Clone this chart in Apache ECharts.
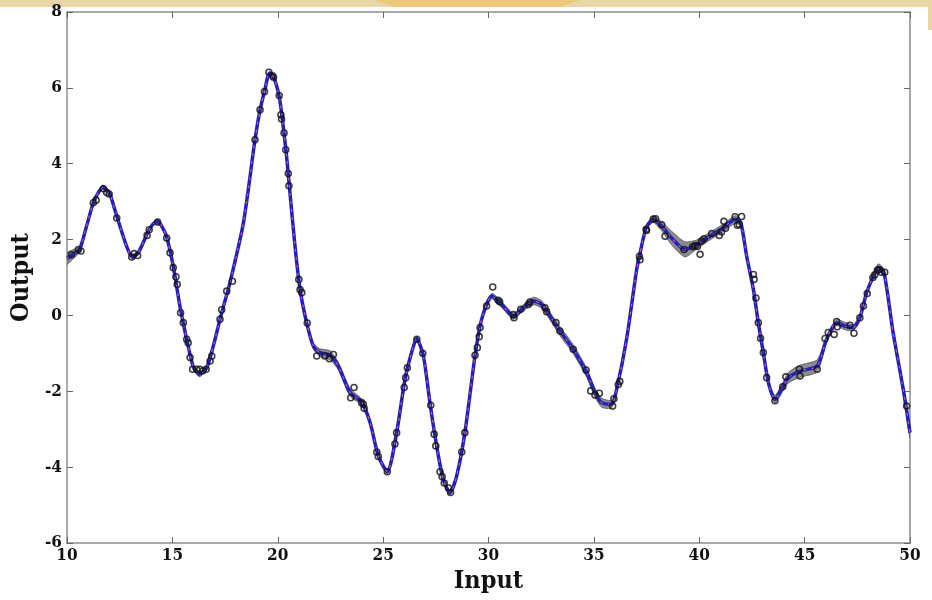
<!DOCTYPE html>
<html>
<head>
<meta charset="utf-8">
<title>Output vs Input</title>
<script src="https://cdn.jsdelivr.net/npm/echarts@6/dist/echarts.min.js"></script>
<style>
  html, body { margin: 0; padding: 0; background: #fff; }
  #chart { width: 932px; height: 600px; }
</style>
</head>
<body>
<div id="chart"></div>
<script>
// fitted mean curve
const inputX = [10.0, 10.3, 10.6, 10.9, 11.25, 11.5, 11.7, 11.9, 12.05, 12.4, 12.83, 13.1, 13.38, 13.86, 14.1, 14.3, 14.5, 14.73,
  15.04, 15.36, 15.68, 15.99, 16.28, 16.63, 16.94, 17.34, 17.73, 18.37, 18.92, 19.16, 19.39, 19.6, 19.79, 20.07, 20.26, 20.42,
  20.58, 20.82, 21.06, 21.37, 21.69, 22.0, 22.48, 22.87, 23.43, 23.98, 24.38, 24.77, 25.2, 25.64, 26.04, 26.35, 26.59, 26.91,
  27.22, 27.54, 27.85, 28.17, 28.49, 28.88, 29.36, 29.67, 30.15, 30.46, 30.7, 31.18, 31.65, 32.13, 32.52, 32.92, 33.39, 34.02,
  34.66, 35.05, 35.37, 35.84, 36.08, 36.55, 37.03, 37.16, 37.48, 37.82, 38.22, 38.69, 39.32, 39.88, 40.51, 41.14, 41.7, 41.97,
  42.25, 42.57, 42.8, 43.04, 43.28, 43.59, 43.99, 44.23, 44.78, 45.6, 46.04, 46.52, 46.91, 47.31, 47.62, 47.94, 48.26, 48.49,
  48.76, 49.2, 49.68, 50.0];
const outputMean = [1.5, 1.62, 1.74, 2.3, 2.97, 3.25, 3.38, 3.3, 3.18, 2.55, 1.82, 1.54, 1.65, 2.22, 2.42, 2.47, 2.35, 2.07,
  1.3, 0.24, -0.63, -1.35, -1.55, -1.38, -0.81, 0.07, 0.86, 2.44, 4.63, 5.42, 5.95, 6.38, 6.3, 5.77, 4.98, 4.19,
  3.23, 1.82, 0.68, -0.19, -0.81, -0.98, -1.05, -1.33, -2.03, -2.28, -2.82, -3.7, -4.12, -3.09, -1.68, -0.98, -0.61, -1.07,
  -2.3, -3.44, -4.32, -4.67, -4.23, -3.09, -1.07, -0.11, 0.51, 0.38, 0.24, -0.02, 0.2, 0.38, 0.29, -0.02, -0.41, -0.89,
  -1.51, -2.03, -2.3, -2.34, -1.95, -0.63, 1.21, 1.56, 2.31, 2.53, 2.35, 2.04, 1.74, 1.87, 2.09, 2.31, 2.53, 2.44,
  1.56, 0.68, -0.19, -0.98, -1.77, -2.21, -1.86, -1.64, -1.47, -1.33, -0.63, -0.19, -0.28, -0.32, -0.06, 0.6, 1.03, 1.26,
  1.14, -0.46, -1.95, -3.09];
// half width of the grey uncertainty band
const bandHalf = [0.15, 0.12, 0.08, 0.06, 0.05, 0.05, 0.06, 0.05, 0.05, 0.05, 0.05, 0.06, 0.05, 0.05, 0.05, 0.06, 0.05, 0.05,
  0.05, 0.05, 0.05, 0.05, 0.07, 0.05, 0.05, 0.05, 0.05, 0.04, 0.04, 0.04, 0.05, 0.06, 0.05, 0.05, 0.05, 0.05,
  0.05, 0.05, 0.05, 0.06, 0.08, 0.1, 0.12, 0.1, 0.1, 0.08, 0.06, 0.05, 0.06, 0.05, 0.05, 0.05, 0.05, 0.05,
  0.05, 0.05, 0.05, 0.07, 0.05, 0.05, 0.05, 0.05, 0.07, 0.08, 0.08, 0.08, 0.08, 0.1, 0.1, 0.1, 0.12, 0.12,
  0.12, 0.12, 0.12, 0.1, 0.06, 0.05, 0.05, 0.05, 0.06, 0.08, 0.12, 0.18, 0.2, 0.12, 0.1, 0.1, 0.1, 0.08,
  0.05, 0.05, 0.05, 0.05, 0.05, 0.1, 0.12, 0.14, 0.16, 0.16, 0.08, 0.08, 0.1, 0.08, 0.06, 0.06, 0.08, 0.1,
  0.08, 0.08, 0.12, 0.15];

// observed samples (open circles)
const obsX = [10.22, 10.54, 10.66, 11.25, 11.38, 11.73, 11.88, 12.0, 12.36, 13.07, 13.19, 13.35, 13.8, 13.9, 14.3, 14.73, 14.89,
  15.04, 15.17, 15.23, 15.39, 15.52, 15.68, 15.75, 15.84, 15.96, 16.15, 16.3, 16.45, 16.6, 16.79, 16.87, 17.26, 17.34, 17.58,
  17.85, 18.92, 19.16, 19.37, 19.58, 19.75, 19.8, 20.07, 20.15, 20.18, 20.3, 20.38, 20.5, 20.53, 21.0, 21.06, 21.14, 21.4,
  21.85, 22.24, 22.45, 22.64, 23.46, 23.62, 23.98, 24.06, 24.1, 24.7, 24.77, 25.2, 25.56, 25.64, 26.0, 26.07, 26.15, 26.6,
  26.88, 27.26, 27.42, 27.5, 27.7, 27.8, 27.9, 28.1, 28.2, 28.73, 28.88, 29.36, 29.47, 29.56, 29.6, 29.91, 30.2, 30.46,
  30.53, 31.18, 31.21, 31.53, 31.89, 31.96, 32.68, 32.76, 33.2, 33.39, 34.02, 34.63, 34.85, 35.05, 35.26, 35.89, 35.95,
  36.16, 36.23, 37.16, 37.19, 37.48, 37.5, 37.82, 37.93, 38.22, 38.38, 39.28, 39.69, 39.8, 39.91, 40.04, 40.11, 40.22,
  40.59, 40.95, 41.06, 41.17, 41.25, 41.7, 41.81, 41.9, 42.01, 42.57, 42.6, 42.69, 42.8, 42.91, 43.04, 43.2, 43.59, 43.96,
  44.11, 44.75, 44.78, 45.6, 45.97, 46.12, 46.4, 46.52, 46.55, 47.15, 47.34, 47.62, 47.79, 47.97, 48.24, 48.33, 48.45,
  48.54, 48.64, 48.8, 49.84];
const obsY = [1.6, 1.74, 1.7, 2.97, 3.04, 3.34, 3.24, 3.2, 2.57, 1.54, 1.63, 1.58, 2.11, 2.26, 2.46, 2.04, 1.65,
  1.26, 1.02, 0.82, 0.07, -0.19, -0.63, -0.72, -1.11, -1.42, -1.42, -1.42, -1.46, -1.42, -1.2, -1.07, -0.1, 0.15, 0.64,
  0.9, 4.63, 5.42, 5.9, 6.41, 6.32, 6.28, 5.8, 5.29, 5.18, 4.81, 4.37, 3.74, 3.42, 0.95, 0.68, 0.6, -0.2,
  -1.07, -1.07, -1.14, -1.03, -2.17, -1.9, -2.3, -2.34, -2.45, -3.6, -3.72, -4.12, -3.39, -3.09, -1.9, -1.64, -1.38, -0.63,
  -1.0, -2.37, -3.13, -3.44, -4.12, -4.25, -4.42, -4.55, -4.67, -3.6, -3.09, -1.05, -0.85, -0.56, -0.32, 0.25, 0.75, 0.4,
  0.36, 0.02, -0.06, 0.16, 0.29, 0.35, 0.2, 0.1, -0.19, -0.41, -0.89, -1.44, -1.99, -2.1, -2.05, -2.39, -2.2,
  -1.82, -1.74, 1.56, 1.47, 2.27, 2.24, 2.54, 2.55, 2.39, 2.09, 1.74, 1.81, 1.84, 1.82, 1.61, 1.96, 2.02,
  2.16, 2.11, 2.2, 2.48, 2.3, 2.6, 2.38, 2.4, 2.61, 1.08, 0.95, 0.46, -0.19, -0.6, -0.98, -1.64, -2.25, -1.88,
  -1.62, -1.42, -1.6, -1.42, -0.61, -0.45, -0.5, -0.16, -0.3, -0.26, -0.47, -0.06, 0.25, 0.58, 1.0, 1.07, 1.19,
  1.21, 1.14, 1.14, -2.39];

const xTicks = { min: 10, max: 50, interval: 5 };
const yTicks = { min: -6, max: 8, interval: 2 };

const meanData = inputX.map((x, i) => [x, outputMean[i]]);
const obsData = obsX.map((x, i) => [x, obsY[i]]);

const labelFont = {
  fontFamily: "'DejaVu Serif Condensed', 'Liberation Serif', serif",
  fontWeight: 'bold',
  fontSize: 17,
  color: '#111'
};
const nameFont = {
  fontFamily: "'DejaVu Serif Condensed', 'Liberation Serif', serif",
  fontWeight: 'bold',
  fontSize: 25,
  color: '#111'
};
const boxLine = { show: true, onZero: false, lineStyle: { color: '#8c8c8c', width: 1.5 } };
const inTick = { show: true, inside: true, length: 6, lineStyle: { color: '#666', width: 1 } };

const chart = echarts.init(document.getElementById('chart'));
chart.setOption({
  backgroundColor: '#fff',
  animation: false,
  // slide background peeking in at the top
  graphic: [
    { type: 'rect', shape: { x: 0, y: 0, width: 932, height: 7 }, style: { fill: '#e9d6a7' }, silent: true },
    { type: 'polygon', shape: { points: [[375, 0], [580, 0], [560, 7], [395, 7]] }, style: { fill: '#ecc878' }, silent: true },
    { type: 'rect', shape: { x: 928, y: 0, width: 4, height: 30 }, style: { fill: '#e9d6a7' }, silent: true }
  ],
  grid: { left: 67, right: 22, top: 12, bottom: 57 },
  xAxis: [
    {
      type: 'value', position: 'bottom', ...xTicks,
      name: 'Input', nameLocation: 'middle', nameGap: 24, nameTextStyle: nameFont,
      axisLine: boxLine, axisTick: inTick, splitLine: { show: false },
      axisLabel: { ...labelFont, margin: 4 }
    },
    {
      type: 'value', position: 'top', ...xTicks,
      axisLine: boxLine, axisTick: inTick, splitLine: { show: false },
      axisLabel: { show: false }
    }
  ],
  yAxis: [
    {
      type: 'value', position: 'left', ...yTicks,
      name: 'Output', nameLocation: 'middle', nameGap: 23, nameRotate: 90, nameTextStyle: nameFont,
      axisLine: boxLine, axisTick: inTick, splitLine: { show: false },
      axisLabel: { ...labelFont, margin: 5 }
    },
    {
      type: 'value', position: 'right', ...yTicks,
      axisLine: boxLine, axisTick: inTick, splitLine: { show: false },
      axisLabel: { show: false }
    }
  ],
  series: [
    {
      // grey uncertainty band, drawn as one polygon through the axes
      type: 'custom',
      silent: true,
      z: 1,
      clip: true,
      data: [meanData[0]],
      renderItem: function (params, api) {
        if (params.dataIndex !== 0) return null;
        const pts = [];
        for (let i = 0; i < inputX.length; i++) {
          pts.push(api.coord([inputX[i], outputMean[i] + bandHalf[i]]));
        }
        for (let i = inputX.length - 1; i >= 0; i--) {
          pts.push(api.coord([inputX[i], outputMean[i] - bandHalf[i]]));
        }
        return {
          type: 'polygon',
          shape: { points: pts, smooth: 0.2 },
          style: { fill: 'rgba(120,120,120,0.85)', stroke: '#555', lineWidth: 0.8 }
        };
      }
    },
    {
      type: 'line',
      data: meanData,
      smooth: 0.25,
      showSymbol: false,
      z: 2,
      lineStyle: { color: '#2020c0', width: 3.5 }
    },
    {
      type: 'line',
      data: meanData,
      smooth: 0.25,
      showSymbol: false,
      z: 3,
      lineStyle: { color: '#d8607a', width: 1.1, type: [3, 5] }
    },
    {
      type: 'scatter',
      data: obsData,
      symbol: 'circle',
      symbolSize: 6,
      z: 4,
      itemStyle: { color: 'rgba(0,0,0,0)', borderColor: '#111', borderWidth: 1.6 }
    }
  ]
});
</script>
</body>
</html>
